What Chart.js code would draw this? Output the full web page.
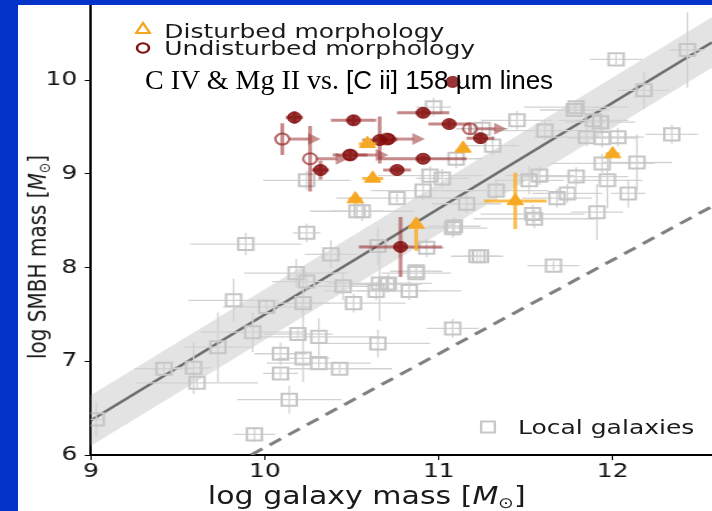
<!DOCTYPE html>
<html>
<head>
<meta charset="utf-8">
<script src="https://cdn.jsdelivr.net/npm/chart.js@4.4.1/dist/chart.umd.min.js"></script>
<style>
  body { margin: 0; width: 712px; height: 511px; overflow: hidden; background: #0433c9; }
  #panel { position: absolute; left: 18px; top: 5px; width: 694px; height: 506px; background: #fff; overflow: hidden; }
  /* the original figure was pasted stretched sideways, so we stretch ours too */
  #stretch { position: absolute; left: 0; top: 0; width: 555px; height: 506px; transform: scaleX(1.25); transform-origin: 0 0; }
  .lbl { position: absolute; white-space: nowrap; font-family: "DejaVu Sans", sans-serif; font-size: 20px; line-height: 20px; color: #1a1a1a; }
  .lbl sub { font-size: 0.62em; vertical-align: -0.25em; line-height: 0; }
  .mk { position: absolute; }
  #note { position: absolute; left: 127px; top: 61px; white-space: nowrap; line-height: 28px; color: #000; }
</style>
</head>
<body>
<div id="panel">
  <div id="stretch">
    <canvas id="chart" width="555" height="506"></canvas>

    <svg class="mk" style="left:93px;top:16px" width="14" height="14"><polygon points="7,2 12.5,12 1.5,12" fill="none" stroke="#f5a623" stroke-width="2"/></svg>
    <div class="lbl" style="left:117px;top:16px">Disturbed morphology</div>
    <svg class="mk" style="left:93px;top:36px" width="14" height="14"><circle cx="7" cy="7" r="4.8" fill="none" stroke="#7d1010" stroke-width="2"/></svg>
    <div class="lbl" style="left:117px;top:33px">Undisturbed morphology</div>

    <svg class="mk" style="left:369px;top:415px" width="14" height="14"><rect x="1.5" y="1.5" width="11" height="11" fill="none" stroke="#c8c8c8" stroke-width="2"/></svg>
    <div class="lbl" style="left:400px;top:412px">Local galaxies</div>

    <div class="lbl" style="left:279px;top:491px;font-size:24px;transform:translate(-50%,-50%)">log galaxy mass [<i>M</i><sub>⊙</sub>]</div>
    <div class="lbl" style="left:15px;top:252px;transform:translate(-50%,-50%) rotate(-90deg)">log SMBH mass [<i>M</i><sub>⊙</sub>]</div>
  </div>
  <div id="note"><span style="font-family:'Liberation Serif',serif;font-size:28px">C IV &amp; Mg II vs. </span><span style="font-family:'Liberation Sans',sans-serif;font-size:26px">[C ii] 158 µm lines</span></div>
</div>

<script>
// axis ticks
const xTicks = [9, 10, 11, 12];
const yTicks = [6, 7, 8, 9, 10];

// local galaxies (grey squares) - log galaxy mass, log SMBH mass and errors
const localX = [9.03, 9.42, 9.59, 9.61, 9.73, 9.82, 9.89, 9.93, 9.94, 10.01,
  10.09, 10.09, 10.14, 10.18, 10.19, 10.22, 10.22, 10.24, 10.24, 10.31,
  10.31, 10.38, 10.43, 10.45, 10.51, 10.53, 10.65, 10.66, 10.64, 10.71,
  10.56, 10.87, 10.83, 10.93, 11.08, 11.22, 11.08, 10.65, 10.24, 10.76,
  10.97, 11.45, 11.61, 11.25, 11.31, 11.10, 10.95, 11.02, 10.91, 11.79,
  11.89, 11.93, 11.85, 11.94, 11.94, 11.79, 11.97, 11.58, 11.52, 11.33,
  11.74, 11.68, 11.54, 11.91, 11.16, 12.02, 12.43, 12.18, 11.78, 12.34,
  12.14, 12.09, 12.03, 11.24, 11.66, 11.55, 10.87, 10.70, 11.09];
const localY = [6.38, 6.92, 6.93, 6.77, 7.15, 7.65, 8.25, 7.31, 6.22, 7.58,
  7.08, 6.87, 6.59, 7.94, 7.29, 7.03, 7.62, 8.37, 7.85, 7.26,
  6.98, 8.14, 6.92, 7.80, 7.62, 8.60, 8.23, 7.83, 7.75, 7.83,
  8.60, 7.94, 7.75, 8.21, 8.42, 8.12, 7.35, 7.19, 8.93, 8.74,
  9.71, 9.57, 9.46, 9.48, 9.30, 9.16, 8.98, 8.95, 8.82, 9.71,
  9.57, 9.55, 9.39, 9.38, 9.11, 8.97, 8.93, 8.98, 8.93, 8.82,
  8.79, 8.74, 8.57, 8.59, 8.68, 10.22, 10.32, 9.89, 9.68, 9.42,
  9.12, 8.79, 9.39, 8.12, 8.02, 8.52, 7.96, 7.82, 8.44];
const localXErr = [0.05, 0.17, 0.10, 0.35, 0.20, 0.26, 0.32, 0.30, 0.12, 0.25,
  0.15, 0.10, 0.30, 0.30, 0.20, 0.15, 0.15, 0.08, 0.20, 0.35,
  0.30, 0.15, 0.30, 0.15, 0.30, 0.15, 0.10, 0.30, 0.30, 0.15,
  0.30, 0.20, 0.30, 0.10, 0.20, 0.15, 0.15, 0.30, 0.25, 0.35,
  0.10, 0.20, 0.30, 0.15, 0.15, 0.15, 0.30, 0.15, 0.30, 0.30,
  0.20, 0.20, 0.30, 0.20, 0.30, 0.30, 0.20, 0.20, 0.20, 0.30,
  0.20, 0.20, 0.30, 0.15, 0.20, 0.15, 0.10, 0.15, 0.20, 0.15,
  0.20, 0.10, 0.15, 0.10, 0.15, 0.35, 0.15, 0.20, 0.15];
const localYErr = [0.18, 0.05, 0.28, 0.05, 0.37, 0.23, 0.12, 0.21, 0.08, 0.05,
  0.12, 0.05, 0.15, 0.15, 0.05, 0.25, 0.35, 0.10, 0.10, 0.20,
  0.05, 0.15, 0.05, 0.15, 0.10, 0.05, 0.20, 0.40, 0.10, 0.10,
  0.10, 0.05, 0.10, 0.10, 0.10, 0.05, 0.10, 0.15, 0.10, 0.05,
  0.10, 0.10, 0.10, 0.10, 0.10, 0.10, 0.10, 0.10, 0.10, 0.05,
  0.10, 0.10, 0.10, 0.10, 0.10, 0.10, 0.30, 0.10, 0.15, 0.10,
  0.10, 0.10, 0.10, 0.30, 0.10, 0.05, 0.40, 0.20, 0.05, 0.10,
  0.30, 0.15, 0.10, 0.05, 0.05, 0.10, 0.05, 0.05, 0.10];

// undisturbed quasar hosts (dark red filled circles)
const undistX = [10.17, 10.51, 10.91, 11.06, 11.24, 11.08, 10.49, 10.66, 10.71, 10.32, 10.76, 10.91, 10.78];
const undistY = [9.60, 9.57, 9.65, 9.53, 9.38, 9.98, 9.20, 9.36, 9.37, 9.04, 9.04, 9.16, 8.22];
const undistXErr = [0.05, 0.13, 0.15, 0.12, 0.08, 0, 0.10, 0.10, 0.05, 0.05, 0.08, 0.25, 0.24];
const undistYErr = [0.07, 0.05, 0.04, 0.04, 0.05, 0, 0.05, 0.25, 0.05, 0.10, 0.03, 0.03, 0.32];

// undisturbed, galaxy mass lower limits (open circles with arrows)
const limX = [10.10, 10.26, 10.49, 10.70, 11.18];
const limY = [9.37, 9.16, 9.20, 9.37, 9.48];
const limYErr = [0.17, 0.35, 0, 0, 0.05];
const limArrow = [0.22, 0.22, 0.22, 0.22, 0.21];

// disturbed quasar hosts (orange triangles) - [lo, hi] where asymmetric
const distX = [10.59, 10.62, 10.52, 11.14, 12.00, 11.44, 10.87];
const distY = [9.32, 8.95, 8.73, 9.27, 9.21, 8.71, 8.46];
const distXErr = [0.05, 0.06, 0.04, 0, 0.04, 0.18, 0];
const distYErr = [0, 0, 0.05, 0, 0, 0.30, [0.28, 0]];

// local relation with its scatter, and the dashed line
const fitX = [9.0, 12.57];
const fitY = [6.37, 10.40];
const bandHi = [6.64, 10.67];
const bandLo = [6.10, 10.13];
const dashX = [9.92, 12.57];
const dashY = [6.0, 8.65];

const pts = (xs, ys) => xs.map((x, i) => ({ x: x, y: ys[i] }));

// draws error bars under each dataset, arrows on top of the limits
const errorBars = {
  id: 'errorBars',
  beforeDatasetDraw(chart, args) {
    const ds = chart.data.datasets[args.index];
    if (!ds.errX && !ds.errY) return;
    const xs = chart.scales.x, ys = chart.scales.y, ctx = chart.ctx, a = chart.chartArea;
    ctx.save();
    ctx.beginPath();
    ctx.rect(a.left, a.top, a.right - a.left, a.bottom - a.top);
    ctx.clip();
    ctx.strokeStyle = ds.errColor;
    ctx.lineWidth = ds.errWidth;
    ds.data.forEach((p, i) => {
      const px = xs.getPixelForValue(p.x), py = ys.getPixelForValue(p.y);
      const ex = ds.errX ? ds.errX[i] : 0;
      const ey = ds.errY ? ds.errY[i] : 0;
      ctx.beginPath();
      if (ex) {
        ctx.moveTo(xs.getPixelForValue(p.x - ex), py);
        ctx.lineTo(xs.getPixelForValue(p.x + ex), py);
      }
      if (ey) {
        const lo = Array.isArray(ey) ? ey[0] : ey;
        const hi = Array.isArray(ey) ? ey[1] : ey;
        ctx.moveTo(px, ys.getPixelForValue(p.y - lo));
        ctx.lineTo(px, ys.getPixelForValue(p.y + hi));
      }
      ctx.stroke();
    });
    ctx.restore();
  },
  afterDatasetDraw(chart, args) {
    const ds = chart.data.datasets[args.index];
    if (!ds.arrows) return;
    const xs = chart.scales.x, ys = chart.scales.y, ctx = chart.ctx;
    ctx.save();
    ctx.strokeStyle = 'rgba(165,70,70,0.6)';
    ctx.fillStyle = 'rgba(165,70,70,0.6)';
    ctx.lineWidth = 3;
    ds.data.forEach((p, i) => {
      const x0 = xs.getPixelForValue(p.x) + 5;
      const x1 = xs.getPixelForValue(p.x + ds.arrows[i]);
      const py = ys.getPixelForValue(p.y);
      ctx.beginPath();
      ctx.moveTo(x0, py);
      ctx.lineTo(x1 - 9, py);
      ctx.stroke();
      ctx.beginPath();
      ctx.moveTo(x1, py);
      ctx.lineTo(x1 - 10, py - 6);
      ctx.lineTo(x1 - 10, py + 6);
      ctx.closePath();
      ctx.fill();
    });
    ctx.restore();
  }
};

new Chart(document.getElementById('chart'), {
  type: 'scatter',
  data: {
    datasets: [
      {
        label: 'Disturbed morphology',
        data: pts(distX, distY),
        errX: distXErr, errY: distYErr,
        errColor: 'rgba(250,175,40,0.85)', errWidth: 3,
        pointStyle: 'triangle', pointRadius: 7.5,
        backgroundColor: '#f7a823', borderColor: '#f7a823', borderWidth: 1,
        order: 0
      },
      {
        label: 'Undisturbed morphology',
        data: pts(undistX, undistY),
        errX: undistXErr, errY: undistYErr,
        errColor: 'rgba(150,40,40,0.55)', errWidth: 3,
        pointStyle: 'circle', pointRadius: 5.5,
        backgroundColor: 'rgba(130,8,8,0.82)', borderColor: 'rgba(130,8,8,0.82)', borderWidth: 1,
        order: 1
      },
      {
        label: 'Undisturbed (limits)',
        data: pts(limX, limY),
        errY: limYErr, arrows: limArrow,
        errColor: 'rgba(150,40,40,0.55)', errWidth: 3,
        pointStyle: 'circle', pointRadius: 5.5,
        backgroundColor: 'rgba(0,0,0,0)', borderColor: 'rgba(150,40,40,0.7)', borderWidth: 2,
        order: 2
      },
      {
        label: 'Local galaxies',
        data: pts(localX, localY),
        errX: localXErr, errY: localYErr,
        errColor: '#d2d2d2', errWidth: 1.3,
        pointStyle: 'rect', pointRadius: 8.5,
        backgroundColor: 'rgba(0,0,0,0)', borderColor: '#c6c6c6', borderWidth: 2,
        order: 3
      },
      {
        type: 'line', label: 'fit',
        data: pts(fitX, fitY),
        borderColor: '#6e6e6e', borderWidth: 2.5, pointRadius: 0, fill: false,
        order: 4
      },
      {
        type: 'line', label: 'dashed',
        data: pts(dashX, dashY),
        borderColor: '#808080', borderWidth: 3, borderDash: [11, 7], pointRadius: 0, fill: false,
        order: 5
      },
      {
        type: 'line', label: 'band high',
        data: pts(fitX, bandHi),
        borderWidth: 0, borderColor: 'rgba(0,0,0,0)', pointRadius: 0,
        fill: '+1', backgroundColor: '#e3e3e3',
        order: 6
      },
      {
        type: 'line', label: 'band low',
        data: pts(fitX, bandLo),
        borderWidth: 0, borderColor: 'rgba(0,0,0,0)', pointRadius: 0, fill: false,
        order: 7
      }
    ]
  },
  options: {
    responsive: false,
    animation: false,
    devicePixelRatio: 1,
    layout: { padding: 0, autoPadding: false },
    plugins: { legend: { display: false }, tooltip: { enabled: false } },
    scales: {
      x: {
        type: 'linear', min: 9, max: 12.57,
        afterBuildTicks: s => { s.ticks = xTicks.map(v => ({ value: v })); },
        afterFit: s => { s.height = 56; s.paddingLeft = 0; s.paddingRight = 0; },
        ticks: { font: { family: 'DejaVu Sans', size: 20 }, color: '#111', padding: 0, maxRotation: 0 },
        grid: { drawOnChartArea: false, color: '#000', tickLength: 5 },
        border: { color: '#000', width: 2 }
      },
      y: {
        type: 'linear', min: 6, max: 10.8,
        afterBuildTicks: s => { s.ticks = yTicks.map(v => ({ value: v })); },
        afterFit: s => { s.width = 58.4; s.paddingTop = 0; s.paddingBottom = 0; },
        ticks: { font: { family: 'DejaVu Sans', size: 20 }, color: '#111', padding: 6 },
        grid: { drawOnChartArea: false, color: '#000', tickLength: 5 },
        border: { color: '#000', width: 2 }
      }
    }
  },
  plugins: [errorBars]
});
</script>
</body>
</html>
